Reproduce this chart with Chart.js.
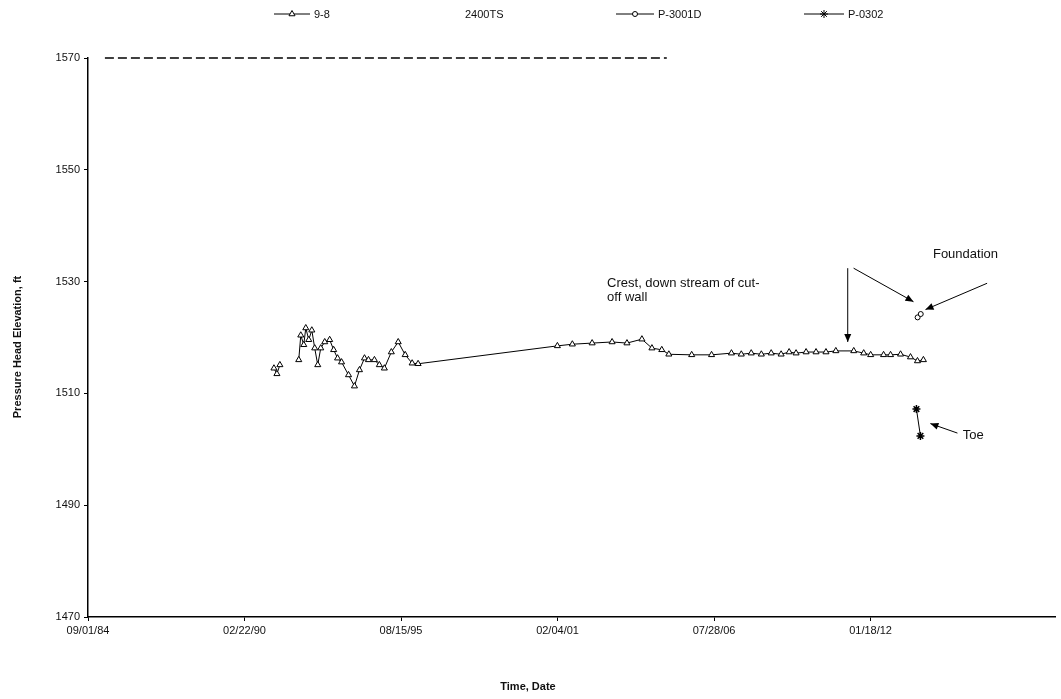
<!DOCTYPE html>
<html>
<head>
<meta charset="utf-8">
<script src="https://cdn.jsdelivr.net/npm/chart.js@4"></script>
<style>
html,body{margin:0;padding:0;background:#fff;}
#wrap{width:1061px;height:699px;position:relative;}
</style>
</head>
<body>
<div id="wrap"><canvas id="c" width="1061" height="699"></canvas></div>
<script>
// ---------- data ----------
const xTickLabels = ["09/01/84", "02/22/90", "08/15/95", "02/04/01", "07/28/06", "01/18/12"];
const yTicks = [1470, 1490, 1510, 1530, 1550, 1570];

const s98Dates = ["1991-03-05","1991-04-12","1991-05-20","1991-10-01",
  "1992-01-16","1992-02-11","1992-03-20","1992-04-15","1992-05-23","1992-07-01","1992-08-07","1992-09-15",
  "1992-10-23","1992-12-13","1993-02-14","1993-04-06","1993-05-26","1993-07-16","1993-10-13","1993-12-28",
  "1994-03-02","1994-05-05","1994-06-25","1994-09-09","1994-11-11","1995-01-14","1995-04-13","1995-07-10",
  "1995-10-07","1996-01-04","1996-03-20","2001-02-02","2001-08-12","2002-04-22","2003-01-02","2003-07-11",
  "2004-01-18","2004-05-25","2004-09-28","2004-12-27","2005-10-15","2006-06-26","2007-03-07","2007-07-11",
  "2007-11-15","2008-03-23","2008-07-27","2008-12-01","2009-03-13","2009-06-10","2009-10-16","2010-02-20",
  "2010-06-27","2010-10-31","2011-06-17","2011-10-22","2012-01-19","2012-07-02","2012-09-29","2013-02-04",
  "2013-06-11","2013-09-08","2013-11-23"];
const s98Values = [1514.5,1513.5,1515.1,null,
  1516.0,1520.4,1518.7,1521.7,1519.6,1521.3,1518.1,1515.1,
  1518.1,1519.2,1519.6,1517.8,1516.3,1515.6,1513.3,1511.3,
  1514.2,1516.3,1516.0,1516.0,1515.1,1514.5,1517.4,1519.2,
  1516.9,1515.4,1515.3,1518.5,1518.8,1519.0,1519.2,1519.0,
  1519.7,1518.1,1517.8,1517.0,1516.9,1516.9,1517.2,1517.0,
  1517.2,1517.0,1517.2,1517.0,1517.4,1517.2,1517.4,1517.4,
  1517.4,1517.6,1517.6,1517.2,1516.9,1516.9,1516.9,1517.0,
  1516.5,1515.8,1516.0];

const s2400Dates = ["1985-04-05","1990-03-01","1995-06-01","2000-01-01","2004-12-01"];
const s2400Values = [1570, 1570, 1570, 1570, 1570];

const p3001Dates = ["2013-09-10","2013-10-20"];
const p3001Values = [1523.6, 1524.2];

const p0302Dates = ["2013-08-26","2013-10-16"];
const p0302Values = [1507.2, 1502.4];

const seriesNames = ["9-8", "2400TS", "P-3001D", "P-0302"];

// annotation texts (anchored in data units)
const notes = [
  {text: "Crest, down stream of cut-", date: "2002-10-30", value: 1529.7},
  {text: "off wall",                  date: "2002-10-30", value: 1527.1},
  {text: "Foundation",                date: "2014-03-25", value: 1534.8},
  {text: "Toe",                       date: "2015-04-10", value: 1502.4}
];
const arrows = [
  {from: ["2011-04-01", 1532.4], to: ["2011-04-01", 1519.2]},
  {from: ["2011-06-15", 1532.4], to: ["2013-07-20", 1526.4]},
  {from: ["2016-02-15", 1529.7], to: ["2013-12-20", 1525.0]},
  {from: ["2015-02-01", 1502.9], to: ["2014-02-20", 1504.6]}
];

// ---------- helpers ----------
const dayOf = s => Date.UTC(+s.slice(0,4), +s.slice(5,7)-1, +s.slice(8,10)) / 864e5;
const dayFromLabel = s => Date.UTC(2000 + (+s.slice(6,8)) - (+s.slice(6,8) > 50 ? 100 : 0), +s.slice(0,2)-1, +s.slice(3,5)) / 864e5;
const pts = (d, v) => d.map((x, i) => ({x: dayOf(x), y: v[i]}));
const pad2 = n => (n < 10 ? "0" : "") + n;
const fmtDay = d => { const t = new Date(d * 864e5); return pad2(t.getUTCMonth()+1) + "/" + pad2(t.getUTCDate()) + "/" + pad2(t.getUTCFullYear() % 100); };

const xTickDays = xTickLabels.map(dayFromLabel);
const xMin = xTickDays[0];
const xMax = xMin + 12363;

const FONT = "'Liberation Sans', Arial, sans-serif";

const legendPos = [
  {sx: 274, ex: 310, tx: 314},
  {sx: null, ex: null, tx: 465},
  {sx: 616, ex: 654, tx: 658},
  {sx: 804, ex: 844, tx: 848}
];

const overlay = {
  id: "overlay",
  afterDraw(chart) {
    const ctx = chart.ctx, xs = chart.scales.x, ys = chart.scales.y;
    ctx.save();
    // legend
    ctx.font = "11px " + FONT;
    ctx.textBaseline = "middle";
    ctx.fillStyle = "#111";
    const ly = 14;
    chart.data.datasets.forEach((ds, i) => {
      const p = legendPos[i];
      if (p.sx !== null) {
        ctx.strokeStyle = ds.borderColor;
        ctx.lineWidth = ds.borderWidth;
        ctx.setLineDash([]);
        ctx.beginPath(); ctx.moveTo(p.sx, ly); ctx.lineTo(p.ex, ly); ctx.stroke();
        ctx.fillStyle = ds.pointBackgroundColor;
        ctx.strokeStyle = ds.pointBorderColor;
        Chart.helpers.drawPoint(ctx, {pointStyle: ds.pointStyle, radius: ds.pointRadius, borderWidth: 1, rotation: 0}, (p.sx + p.ex) / 2, ly);
      }
      ctx.fillStyle = "#111";
      ctx.textAlign = "left";
      ctx.fillText(ds.label, p.tx, ly + 1);
    });
    // axis titles
    ctx.font = "bold 11px " + FONT;
    ctx.textAlign = "center";
    ctx.fillText("Time, Date", 528, 687);
    ctx.save();
    ctx.translate(18, 347);
    ctx.rotate(-Math.PI / 2);
    ctx.fillText("Pressure Head Elevation, ft", 0, 0);
    ctx.restore();
    // annotations
    ctx.font = "13px " + FONT;
    ctx.textAlign = "left";
    notes.forEach(n => ctx.fillText(n.text, xs.getPixelForValue(dayOf(n.date)), ys.getPixelForValue(n.value)));
    ctx.strokeStyle = "#000"; ctx.fillStyle = "#000"; ctx.lineWidth = 1;
    arrows.forEach(a => {
      const x1 = xs.getPixelForValue(dayOf(a.from[0])), y1 = ys.getPixelForValue(a.from[1]);
      const x2 = xs.getPixelForValue(dayOf(a.to[0])), y2 = ys.getPixelForValue(a.to[1]);
      ctx.beginPath(); ctx.moveTo(x1, y1); ctx.lineTo(x2, y2); ctx.stroke();
      const ang = Math.atan2(y2 - y1, x2 - x1), L = 8, W = 3.5;
      ctx.beginPath();
      ctx.moveTo(x2, y2);
      ctx.lineTo(x2 - L * Math.cos(ang) + W * Math.sin(ang), y2 - L * Math.sin(ang) - W * Math.cos(ang));
      ctx.lineTo(x2 - L * Math.cos(ang) - W * Math.sin(ang), y2 - L * Math.sin(ang) + W * Math.cos(ang));
      ctx.closePath(); ctx.fill();
    });
    ctx.restore();
  }
};

new Chart(document.getElementById("c"), {
  type: "line",
  data: {
    datasets: [
      {label: seriesNames[0], data: pts(s98Dates, s98Values), borderColor: "#000", borderWidth: 1,
       pointStyle: "triangle", pointRadius: 3.5, pointBackgroundColor: "#fff", pointBorderColor: "#000", pointBorderWidth: 1,
       spanGaps: false, tension: 0},
      {label: seriesNames[1], data: pts(s2400Dates, s2400Values), borderColor: "#000", borderWidth: 1.5,
       borderDash: [9, 4], pointRadius: 0, pointStyle: "line", pointBackgroundColor: "#000", pointBorderColor: "#000", tension: 0},
      {label: seriesNames[2], data: pts(p3001Dates, p3001Values), borderColor: "#000", borderWidth: 1,
       pointStyle: "circle", pointRadius: 2.5, pointBackgroundColor: "#fff", pointBorderColor: "#000", pointBorderWidth: 1, tension: 0},
      {label: seriesNames[3], data: pts(p0302Dates, p0302Values), borderColor: "#000", borderWidth: 1,
       pointStyle: "star", pointRadius: 4, pointBackgroundColor: "#000", pointBorderColor: "#000", pointBorderWidth: 1.5, tension: 0}
    ]
  },
  options: {
    responsive: false,
    animation: false,
    clip: false,
    layout: {padding: {top: 58, right: 0, left: 0, bottom: 0}},
    plugins: {legend: {display: false}, tooltip: {enabled: false}},
    scales: {
      x: {
        type: "linear", min: xMin, max: xMax,
        grid: {display: true, drawOnChartArea: false, drawTicks: true, tickLength: 4, color: "#000"},
        border: {display: true, color: "#000", width: 1.5},
        ticks: {color: "#111", font: {family: FONT, size: 11}, padding: 3, maxRotation: 0, autoSkip: false,
                callback: v => fmtDay(v)},
        afterBuildTicks: s => { s.ticks = xTickDays.map(v => ({value: v})); },
        afterFit: s => { s.height = 82; }
      },
      y: {
        type: "linear", min: yTicks[0], max: yTicks[yTicks.length - 1],
        grid: {display: true, drawOnChartArea: false, drawTicks: true, tickLength: 4, color: "#000"},
        border: {display: true, color: "#000", width: 1.5},
        ticks: {color: "#111", font: {family: FONT, size: 11}, padding: 4, callback: v => String(v)},
        afterBuildTicks: s => { s.ticks = yTicks.map(v => ({value: v})); },
        afterFit: s => { s.width = 88; }
      }
    }
  },
  plugins: [overlay]
});
</script>
</body>
</html>
